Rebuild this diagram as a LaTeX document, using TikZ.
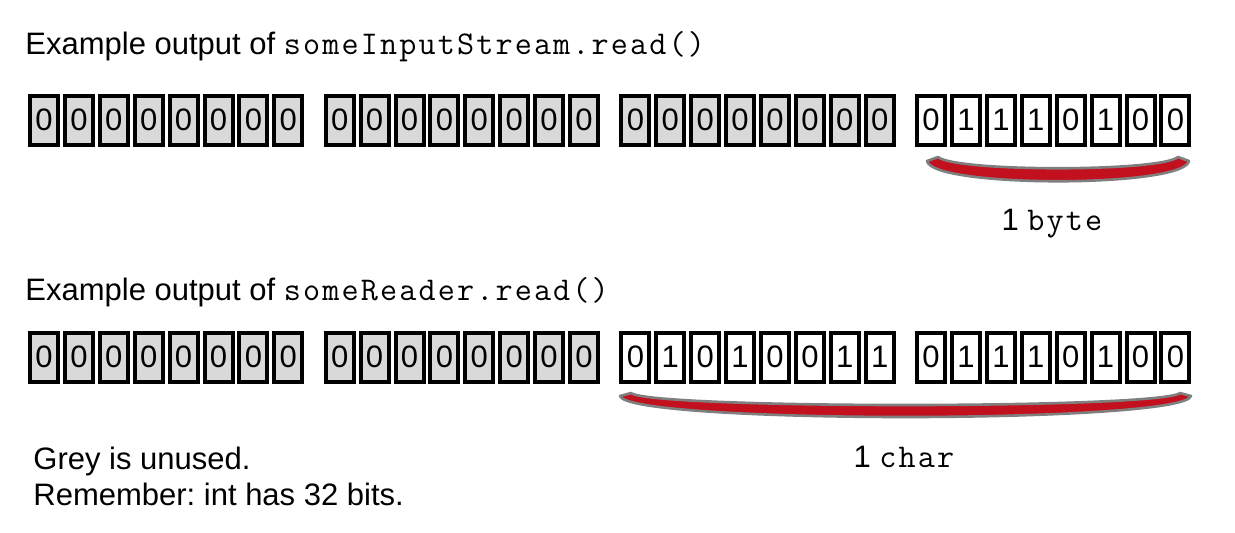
\documentclass[tikz,border=0pt]{standalone}
\usepackage{fontspec}
\setmainfont{Liberation Sans}
\setmonofont[Scale=1.07,LetterSpace=6.5]{Latin Modern Mono}
\usetikzlibrary{positioning}

\definecolor{bitgrey}{HTML}{D9D9D9}
\definecolor{bracered}{HTML}{C3101F}
\definecolor{braceedge}{HTML}{7F7F7F}

\tikzset{
  bit/.style={draw, line width=2pt, minimum width=14pt, minimum height=24.5pt, inner sep=0pt, font=\fontsize{15.5}{18}\selectfont},
  unused/.style={bit, fill=bitgrey},
  used/.style={bit, fill=white},
  label/.style={anchor=base west, inner sep=0pt, font=\fontsize{15.5}{18}\selectfont},
  crescent/.style={fill=bracered, draw=braceedge, line width=1.3pt, line join=round}
}
\frenchspacing

\begin{document}
\begin{tikzpicture}[x=0.5pt,y=-0.5pt]
\useasboundingbox (0,0) rectangle (1235,532);

% first row: byte stream
\node [label] (title1) at (25,54) {Example output of \texttt{someInputStream.read()}};
\foreach \g in {0,1,2}
  \foreach \i in {1,...,8}
    \node [unused] (a-\g-\i) at ({28+295.7*\g+34.9*(\i-1)+16},120) {0};
\foreach \b [count=\i] in {0,1,1,1,0,1,0,0}
  \node [used] (a-3-\i) at ({28+295.7*3+34.9*(\i-1)+16},120) {\b};
\draw [crescent] (927,161) .. controls (932,188) and (1184,188) .. (1189,161)
  -- (1178,157) .. controls (1160,172) and (956,172) .. (938,157) -- cycle;
\node [label, anchor=base] (byte) at (1053,230) {1 \texttt{byte}};

% second row: reader
\node [label] (title2) at (25,300) {Example output of \texttt{someReader.read()}};
\foreach \g in {0,1}
  \foreach \i in {1,...,8}
    \node [unused] (c-\g-\i) at ({28+295.7*\g+34.9*(\i-1)+16},357) {0};
\foreach \b [count=\i] in {0,1,0,1,0,0,1,1}
  \node [used] (c-2-\i) at ({28+295.7*2+34.9*(\i-1)+16},357) {\b};
\foreach \b [count=\i] in {0,1,1,1,0,1,0,0}
  \node [used] (c-3-\i) at ({28+295.7*3+34.9*(\i-1)+16},357) {\b};
\draw [crescent] (620,396) .. controls (628,424) and (1183,424) .. (1191,396)
  -- (1180,393) .. controls (1160,409) and (651,409) .. (631,393) -- cycle;
\node [label, anchor=base] (char) at (905,467) {1 \texttt{char}};

\node [label] (note1) at (33,469) {Grey is unused.};
\node [label] (note2) at (33,505) {Remember: int has 32 bits.};
\end{tikzpicture}
\end{document}
